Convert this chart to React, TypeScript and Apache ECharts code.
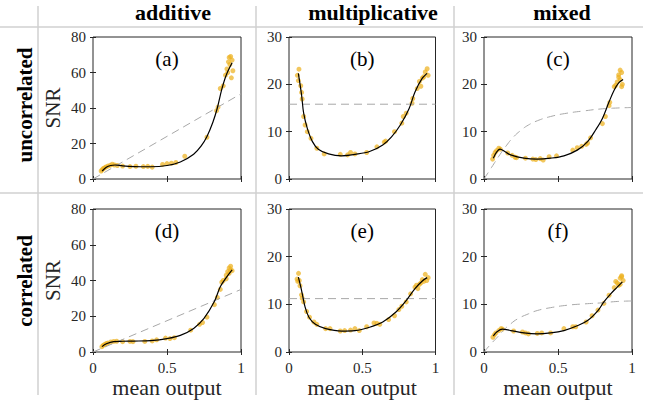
import React, { useEffect, useRef } from "react";
import * as echarts from "echarts";

const columnTitles = ["additive", "multiplicative", "mixed"];
const rowTitles = ["uncorrelated", "correlated"];
const panelLabels = ["(a)", "(b)", "(c)", "(d)", "(e)", "(f)"];
const xAxisName = "mean output";
const yAxisName = "SNR";
const yMaxes = [80, 30, 30, 80, 30, 30];
const yIntervals = [20, 10, 10, 20, 10, 10];

const scatterA = [[0.055,4.5],[0.062,5.2],[0.07,5.9],[0.078,6.3],[0.088,6.8],[0.1,7.3],[0.115,7.7],[0.13,8.3],[0.145,7.9],[0.165,7.6],[0.2,7.3],[0.25,7.0],[0.29,7.2],[0.34,7.0],[0.37,7.1],[0.4,6.7],[0.47,8.2],[0.5,8.7],[0.53,8.9],[0.56,9.3],[0.62,12.8],[0.77,23.5],[0.835,38.5],[0.845,40.5],[0.86,51],[0.88,52.5],[0.895,58.5],[0.905,62],[0.915,66],[0.92,68.5],[0.93,69],[0.925,64.5],[0.945,61],[0.91,60],[0.935,57],[0.94,67]];
const fitA = [[0.062,4.5],[0.09,6.6],[0.12,7.6],[0.15,7.9],[0.2,7.4],[0.28,7.0],[0.39,6.9],[0.5,7.6],[0.59,9.6],[0.68,14],[0.73,18.5],[0.77,24],[0.81,32],[0.84,40],[0.87,50.5],[0.9,58.5],[0.94,65.5]];
const refA = [[0,0],[1,48]];

const scatterB = [[0.068,23.2],[0.057,21.9],[0.064,20.8],[0.08,19.7],[0.086,18.3],[0.09,16.9],[0.1,13.2],[0.11,11.4],[0.125,10.0],[0.15,8.6],[0.19,6.5],[0.24,5.3],[0.35,5.2],[0.4,5.1],[0.42,5.6],[0.45,5.3],[0.53,5.6],[0.6,6.8],[0.65,7.8],[0.66,8.0],[0.72,10.0],[0.77,11.8],[0.78,13.2],[0.8,13.9],[0.84,16.0],[0.845,17],[0.875,19.1],[0.89,20.6],[0.9,19.6],[0.91,21.3],[0.93,22.6],[0.943,23.3],[0.95,21.9],[0.92,21.6]];
const fitB = [[0.064,22.3],[0.086,17.7],[0.1,13.9],[0.125,10.7],[0.16,7.9],[0.2,6.3],[0.27,5.3],[0.36,4.9],[0.45,5.2],[0.55,5.8],[0.64,7.2],[0.7,8.9],[0.76,11.4],[0.82,14.9],[0.86,18.4],[0.91,21.3],[0.943,22.3]];
const refB = [[0,15.8],[1,15.8]];

const scatterC = [[0.058,4.2],[0.065,5.0],[0.075,5.6],[0.085,6.0],[0.1,6.5],[0.11,6.3],[0.16,5.5],[0.19,5.0],[0.21,4.6],[0.22,4.5],[0.28,4.4],[0.33,4.2],[0.35,4.1],[0.38,4.3],[0.4,4.0],[0.44,4.7],[0.49,4.9],[0.6,6.1],[0.63,6.6],[0.66,6.9],[0.69,7.3],[0.7,7.6],[0.72,8.7],[0.8,11.7],[0.82,13.2],[0.845,15.5],[0.85,16.2],[0.88,19.5],[0.9,20.5],[0.91,22],[0.92,23],[0.93,19.5],[0.92,21],[0.935,20],[0.91,21.5],[0.89,19.8],[0.93,22.5]];
const fitC = [[0.063,4.4],[0.085,5.7],[0.108,6.3],[0.14,5.8],[0.18,5.1],[0.27,4.4],[0.36,4.2],[0.45,4.4],[0.54,4.9],[0.63,6.1],[0.7,7.9],[0.755,10.4],[0.8,12.8],[0.845,16.3],[0.88,18.8],[0.91,20.3],[0.94,21.0]];
const refC = [[0,0],[0.05,2.4],[0.1,4.8],[0.15,7.0],[0.2,8.9],[0.25,10.3],[0.3,11.4],[0.36,12.3],[0.45,13.2],[0.56,13.9],[0.68,14.4],[0.79,14.8],[0.9,15.0],[1,15.1]];

const scatterD = [[0.06,3.0],[0.07,3.8],[0.08,4.2],[0.09,4.8],[0.1,5.0],[0.12,5.6],[0.14,5.9],[0.16,6.0],[0.2,5.8],[0.25,5.9],[0.27,5.8],[0.35,5.9],[0.4,6.2],[0.43,6.8],[0.49,7.8],[0.52,7.5],[0.55,8.0],[0.66,12.2],[0.72,15.5],[0.74,16.5],[0.77,19.5],[0.82,26.5],[0.84,30.5],[0.86,35],[0.87,39],[0.88,40],[0.9,43],[0.91,45],[0.92,47],[0.93,48],[0.92,44],[0.93,46],[0.94,45.5],[0.9,41]];
const fitD = [[0.061,3.0],[0.09,4.6],[0.14,5.8],[0.2,6.0],[0.275,6.1],[0.39,6.4],[0.5,7.5],[0.59,9.3],[0.68,13.2],[0.75,18.8],[0.82,28.2],[0.86,36.5],[0.905,42.2],[0.94,46]];
const refD = [[0,0],[1,35]];

const scatterE = [[0.055,15.3],[0.065,16.5],[0.06,14.8],[0.07,15.0],[0.075,13.9],[0.085,12.0],[0.09,11.3],[0.1,10.5],[0.12,8.5],[0.14,7.3],[0.17,6.3],[0.19,5.8],[0.25,4.9],[0.28,4.9],[0.35,4.4],[0.38,4.5],[0.42,4.6],[0.45,4.9],[0.48,4.5],[0.53,5.3],[0.58,6.1],[0.6,6.0],[0.62,5.8],[0.68,6.8],[0.72,7.6],[0.75,8.9],[0.77,9.6],[0.8,10.5],[0.83,12.2],[0.86,13.6],[0.87,14.0],[0.88,13.3],[0.9,14.5],[0.91,15.2],[0.92,14.8],[0.93,16.3],[0.94,15.0],[0.95,15.6],[0.89,14.2]];
const fitE = [[0.064,15.7],[0.086,12.9],[0.11,9.4],[0.136,7.3],[0.18,5.8],[0.25,4.9],[0.36,4.4],[0.45,4.5],[0.55,5.2],[0.64,6.3],[0.73,8.4],[0.8,10.8],[0.86,13.3],[0.91,14.9],[0.943,15.6]];
const refE = [[0,11.2],[1,11.2]];

const scatterF = [[0.06,3.1],[0.07,3.6],[0.08,4.0],[0.1,4.5],[0.115,4.9],[0.125,4.8],[0.2,4.4],[0.26,4.2],[0.28,4.0],[0.3,3.8],[0.36,3.9],[0.39,4.0],[0.45,4.0],[0.54,4.9],[0.6,5.3],[0.62,5.3],[0.69,6.3],[0.73,7.6],[0.77,8.8],[0.81,10.2],[0.845,11.9],[0.88,13.5],[0.9,14.5],[0.92,15.5],[0.93,16],[0.91,14],[0.94,15],[0.92,14.2],[0.93,15.8],[0.89,14.8]];
const fitF = [[0.063,3.4],[0.09,4.3],[0.124,4.8],[0.18,4.5],[0.27,4.0],[0.36,3.8],[0.45,4.0],[0.54,4.5],[0.63,5.5],[0.7,6.6],[0.77,8.7],[0.81,10.5],[0.856,12.2],[0.9,13.6],[0.935,14.7]];
const refF = [[0,0],[0.05,1.8],[0.09,3.1],[0.13,4.5],[0.18,5.9],[0.23,7.0],[0.3,8.0],[0.36,8.7],[0.45,9.3],[0.56,9.8],[0.68,10.1],[0.79,10.3],[0.9,10.6],[1,10.7]];

const scatters = [scatterA, scatterB, scatterC, scatterD, scatterE, scatterF];
const fits = [fitA, fitB, fitC, fitD, fitE, fitF];
const refs = [refA, refB, refC, refD, refE, refF];

const SERIF = "Liberation Serif, serif";
const colLeft = [93, 289, 484];
const colWidth = [148, 146.5, 148];
const rowTop = [37, 209];
const rowHeight = [142, 143];
const axisColor = "#262626";
const fontOverride = "svg text { font-family: 'Liberation Serif', serif !important; }";

export default function App() {
  const ref = useRef<HTMLDivElement>(null);
  useEffect(() => {
    if (!ref.current) return;
    const chart = echarts.init(ref.current, undefined, { renderer: "svg" });
    const grids: any[] = [];
    const xAxes: any[] = [];
    const yAxes: any[] = [];
    const series: any[] = [];
    const graphics: any[] = [];
    for (let i = 0; i < 6; i++) {
      const r = Math.floor(i / 3);
      const c = i % 3;
      grids.push({
        left: colLeft[c], top: rowTop[r], width: colWidth[c], height: rowHeight[r],
        show: true, borderColor: axisColor, borderWidth: 1, backgroundColor: "#fff",
      });
      const tick = { show: true, inside: true, length: 3, lineStyle: { color: axisColor } };
      xAxes.push({
        gridIndex: i, type: "value", min: 0, max: 1, interval: 0.5, position: "bottom",
        axisLine: { show: false }, axisTick: tick, splitLine: { show: false },
        axisLabel: { show: r === 1, margin: 8, fontSize: 15, color: axisColor, fontFamily: SERIF },
        name: r === 1 ? xAxisName : "", nameLocation: "middle", nameGap: 24,
        nameTextStyle: { fontSize: 22, color: axisColor, fontFamily: SERIF },
      });
      xAxes.push({
        gridIndex: i, type: "value", min: 0, max: 1, interval: 0.5, position: "top",
        axisLine: { show: false }, axisTick: tick, splitLine: { show: false }, axisLabel: { show: false },
      });
      yAxes.push({
        gridIndex: i, type: "value", min: 0, max: yMaxes[i], interval: yIntervals[i], position: "left",
        axisLine: { show: false }, axisTick: tick, splitLine: { show: false },
        axisLabel: { margin: 7, fontSize: 15, color: axisColor, fontFamily: SERIF },
        name: c === 0 ? yAxisName : "", nameLocation: "middle", nameGap: 30,
        nameTextStyle: { fontSize: 21, color: axisColor, fontFamily: SERIF },
      });
      yAxes.push({
        gridIndex: i, type: "value", min: 0, max: yMaxes[i], interval: yIntervals[i], position: "right",
        axisLine: { show: false }, axisTick: tick, splitLine: { show: false }, axisLabel: { show: false },
      });
      series.push({
        type: "scatter", xAxisIndex: 2 * i, yAxisIndex: 2 * i, data: scatters[i],
        symbolSize: 5, itemStyle: { color: "#EDB120", opacity: 0.72 }, z: 2, silent: true,
      });
      series.push({
        type: "line", xAxisIndex: 2 * i, yAxisIndex: 2 * i, data: refs[i], showSymbol: false,
        smooth: refs[i].length > 2 ? 0.5 : false,
        lineStyle: { color: "#a8a8a8", width: 1, type: [8, 5] }, z: 3, silent: true,
      });
      series.push({
        type: "line", xAxisIndex: 2 * i, yAxisIndex: 2 * i, data: fits[i], showSymbol: false,
        smooth: 0.35, lineStyle: { color: "#000", width: 1.2 }, z: 4, silent: true,
      });
      graphics.push({
        type: "text", x: colLeft[c] + colWidth[c] / 2, y: rowTop[r] + 22, z: 10,
        style: { text: panelLabels[i], fontSize: 21, fontFamily: SERIF, fill: "#000",
          align: "center", verticalAlign: "middle", textAlign: "center", textVerticalAlign: "middle" },
      });
    }
    const sep = { stroke: "#d0d0d0", lineWidth: 1.5 };
    graphics.push({ type: "line", shape: { x1: 0, y1: 27, x2: 643, y2: 27 }, style: sep, z: 0 });
    graphics.push({ type: "line", shape: { x1: 0, y1: 193, x2: 643, y2: 193 }, style: sep, z: 0 });
    [38, 256, 454].forEach((x) => {
      graphics.push({ type: "line", shape: { x1: x, y1: 6, x2: x, y2: 395 }, style: sep, z: 0 });
    });
    const headerX = [173, 373, 562];
    columnTitles.forEach((t, k) => {
      graphics.push({
        type: "text", x: headerX[k], y: 12, z: 10,
        style: { text: t, fontSize: 22, fontWeight: "bold", fontFamily: SERIF, fill: "#000",
          align: "center", verticalAlign: "middle", textAlign: "center", textVerticalAlign: "middle" },
      });
    });
    const rowY = [105, 281];
    rowTitles.forEach((t, k) => {
      graphics.push({
        type: "text", x: 25, y: rowY[k], rotation: Math.PI / 2, z: 10,
        style: { text: t, fontSize: 21, fontWeight: "bold", fontFamily: SERIF, fill: "#000",
          align: "center", verticalAlign: "middle", textAlign: "center", textVerticalAlign: "middle" },
      });
    });
    chart.setOption({
      animation: false,
      grid: grids,
      xAxis: xAxes,
      yAxis: yAxes,
      series,
      graphic: { elements: graphics },
    });
    return () => chart.dispose();
  }, []);
  return (
    <>
      <style>{fontOverride}</style>
      <div ref={ref} style={{ position: "absolute", left: 0, top: 0, width: 667, height: 405, background: "#fff" }} />
    </>
  );
}
